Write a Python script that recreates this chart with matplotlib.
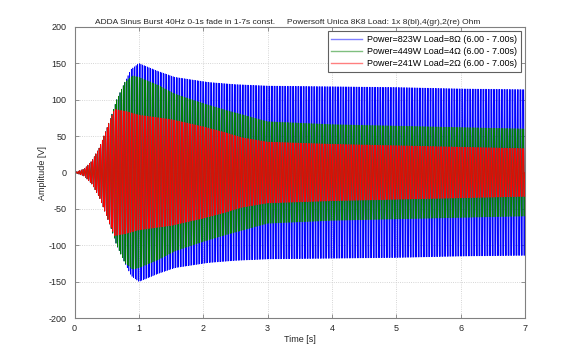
#!/usr/bin/env python3
import numpy as np
import matplotlib
matplotlib.use("Agg")
import matplotlib.pyplot as plt

# burst parameters (from the title)
freq_hz = 40.0
t_end = 7.0

# peak envelopes (time [s], amplitude [V])
blue_env_t = [0, 0.15, 0.27, 0.39, 0.52, 0.60, 0.65, 0.78, 0.88, 1.0, 1.3, 1.56, 2.08, 2.5, 3.0, 4.0, 5.0, 6.0, 7.0]
blue_env_v = [0, 5, 16, 35, 65, 85, 99, 124, 142, 150, 139, 131, 124, 121, 119, 118, 117, 115, 114]
green_env_t = [0, 0.15, 0.27, 0.39, 0.52, 0.60, 0.65, 0.78, 0.9, 1.0, 1.3, 1.56, 2.0, 2.34, 3.0, 4.0, 5.0, 6.0, 7.0]
green_env_v = [0, 5, 16, 35, 65, 85, 99, 124, 133, 131, 120, 108, 95, 86, 70, 66, 64, 62, 60]
red_env_t = [0, 0.15, 0.27, 0.39, 0.52, 0.62, 0.8, 1.0, 1.5, 2.0, 2.34, 2.6, 3.0, 4.0, 5.0, 6.0, 7.0]
red_env_v = [0, 5, 16, 35, 65, 87, 84, 79, 73, 63, 55, 48, 42, 39, 37, 35, 33]

labels = ["Power=823W Load=8\u03a9 (6.00 - 7.00s)",
          "Power=449W Load=4\u03a9 (6.00 - 7.00s)",
          "Power=241W Load=2\u03a9 (6.00 - 7.00s)"]
colors = ["#0000ff", "#008000", "#ff0000"]
title = "ADDA Sinus Burst 40Hz 0-1s fade in 1-7s const.     Powersoft Unica 8K8 Load: 1x 8(bl),4(gr),2(re) Ohm"


def main():
    plt.rcParams['font.family'] = ['Liberation Sans', 'DejaVu Sans']
    plt.rcParams['axes.unicode_minus'] = False
    fig = plt.figure(figsize=(5.8, 3.58), dpi=100)
    ax = fig.add_axes([0.1286, 0.1117, 0.7765, 0.8129])

    t = np.linspace(0, t_end, int(t_end * 4000) + 1)
    carrier = np.sin(2 * np.pi * freq_hz * t)
    envs = [(blue_env_t, blue_env_v), (green_env_t, green_env_v), (red_env_t, red_env_v)]
    for (et, ev), c, lab in zip(envs, colors, labels):
        env = np.interp(t, et, ev)
        ax.plot(t, env * carrier, color=c, linewidth=0.45, label=lab)

    ax.set_xlim(0, 7)
    ax.set_ylim(-200, 200)
    ax.set_xticks(range(0, 8))
    ax.set_yticks(range(-200, 201, 50))
    ax.grid(True, linestyle=':', color='#c8c8c8', linewidth=0.6)
    ax.tick_params(direction='in', top=True, right=True, labelsize=6.5,
                   length=3, width=0.6, color='#808080', labelcolor='#262626')
    ax.tick_params(axis='y', pad=6)
    ax.tick_params(axis='x', pad=4)
    for s in ax.spines.values():
        s.set_color('#808080')
        s.set_linewidth(0.8)

    ax.set_xlabel("Time [s]", fontsize=6.5, color='#262626', labelpad=2)
    ax.set_ylabel("Amplitude [V]", fontsize=6.5, color='#262626', labelpad=1)
    ax.set_title(title, fontsize=6.0, color='#262626', x=0.474, pad=2)

    leg = ax.legend(loc='upper right', fontsize=6.5, fancybox=False, framealpha=1,
                    edgecolor='#606060', handlelength=3.4, handletextpad=0.6,
                    borderaxespad=0.45, labelspacing=0.35, borderpad=0.4)
    leg.get_frame().set_linewidth(0.8)
    for line in leg.get_lines():
        line.set_alpha(0.5)
        line.set_linewidth(1.0)

    fig.savefig("out.png", dpi=100)


if __name__ == "__main__":
    main()
